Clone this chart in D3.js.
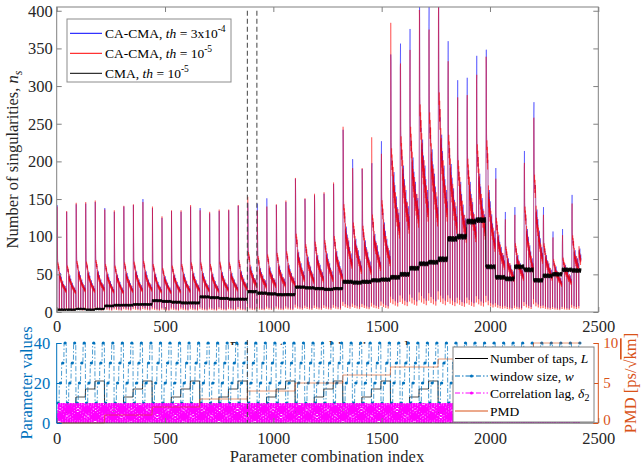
<!DOCTYPE html>
<html>
<head>
<meta charset="utf-8">
<script src="https://cdn.jsdelivr.net/npm/d3@7"></script>
<style>
body { margin: 0; background: #fff; }
svg { display: block; font-family: "Liberation Serif", "Times New Roman", serif; }
</style>
</head>
<body>
<svg width="641" height="471"></svg>
<script>
// parameter grid (nested loops: PMD > taps L > window w > lag delta2)
var pmdValues = [0, 1, 2, 3, 4, 5, 6, 7, 8, 9, 10];
var tapValues = [5, 9, 13, 17, 21];
var winValues = [10, 20, 30, 40];
var lagValues = [0, 1, 2, 3, 4, 5, 6, 7, 8, 9, 10];

// spike height of each L-block (55 blocks of 44 combinations)
var redPeak = [140, 134, 145, 146, 148, 136, 135, 141, 143, 146,
               140, 127, 135, 135, 142, 135, 133, 136, 136, 142,
               153, 135, 140, 143, 148, 178, 151, 157, 159, 172,
               246, 191, 191, 232, 176, 384, 324, 305, 401, 370,
               390, 299, 249, 262, 307, 339, 140, 112, 113, 192,
               257, 118, 87, 89, 124];
var bluePeak = [142, 133, 143, 144, 146, 138, 133, 140, 142, 150,
                138, 125, 134, 133, 140, 138, 131, 134, 135, 141,
                145, 144, 151, 142, 146, 177, 150, 155, 157, 170,
                242, 203, 190, 191, 201, 342, 330, 298, 284, 379,
                335, 284, 251, 264, 302, 283, 151, 116, 118, 180,
                263, 125, 92, 89, 133];
// level of each window-size sub-block inside an L-block
var caLevel = [
  [62, 48, 38, 32], [58, 45, 36, 30], [64, 50, 40, 33], [63, 49, 39, 32], [65, 50, 40, 34],
  [60, 47, 38, 31], [58, 46, 37, 30], [62, 48, 39, 32], [63, 50, 40, 33], [64, 50, 40, 34],
  [60, 47, 37, 31], [55, 44, 36, 30], [58, 46, 37, 31], [60, 47, 38, 32], [62, 48, 39, 33],
  [62, 48, 39, 33], [60, 47, 38, 32], [63, 49, 40, 34], [62, 48, 40, 34], [65, 50, 41, 35],
  [75, 56, 46, 40], [70, 54, 45, 39], [72, 55, 46, 40], [74, 57, 47, 41], [76, 58, 48, 42],
  [98, 74, 60, 50], [85, 68, 56, 47], [88, 70, 58, 49], [90, 72, 60, 50], [95, 75, 62, 52],
  [135, 105, 88, 72], [112, 90, 76, 63], [108, 88, 74, 62], [122, 96, 82, 68], [140, 110, 90, 76],
  [205, 172, 142, 122], [220, 180, 150, 130], [232, 190, 160, 140], [260, 212, 180, 150], [250, 200, 170, 142],
  [275, 218, 180, 150], [222, 182, 152, 130], [190, 160, 132, 115], [192, 160, 135, 116], [210, 170, 140, 120],
  [215, 150, 120, 100], [118, 95, 80, 70], [82, 66, 58, 50], [86, 70, 60, 52], [132, 102, 82, 66],
  [172, 126, 100, 80], [86, 70, 60, 52], [66, 56, 48, 42], [68, 58, 50, 45], [96, 76, 66, 78]
];
// shape over the correlation lag inside a sub-block
var redShape0 = [0.06, 1, 1.5, 1.15, 1.0, 1.06, 0.92, 1.02, 0.88, 0.98, 0.9];
var redShape = [0.06, 1.12, 0.93, 1.06, 0.88, 1.0, 0.84, 0.97, 0.8, 0.92, 0.86];
var blueShape0 = [0.1, 1, 1.62, 1.1, 1.04, 1.0, 0.95, 0.98, 0.92, 0.94, 0.88];
var blueShape = [0.1, 1.05, 0.98, 1.02, 0.92, 1.08, 0.9, 0.95, 0.86, 0.98, 0.88];

// CMA level per L-block and its ripple
var cmaLevel = [3, 3, 4, 3, 4, 8, 9, 9, 10, 10,
                15, 14, 13, 12, 12, 20, 19, 18, 17, 17,
                27, 25, 24, 23, 23, 33, 32, 31, 30, 31,
                40, 39, 40, 42, 43, 46, 50, 58, 64, 66,
                70, 97, 100, 120, 122, 60, 46, 44, 60, 56,
                42, 48, 50, 56, 55];
var cmaRipple = [0, 1.5, -1, 2, -1.5, 0.5, -2, 1.5, 0, 2, -1.5, 1, -1.5, 2, -0.5, 1.5, -2, 0, 1.5, -1, 2, -1.5,
                 -1, 1.5, -2, 1, 2, -1.5, 0, 1.5, -2, 1, -0.5, 1.5, -1.5, 0, 2, -1, 1.5, -2, 1, -1.5, 2, 0];
var cmaRippleAmp = [0.8, 0.9, 1, 1, 1.1, 1.1, 1.4, 1.6, 1.9, 1.6, 1.5];

var markIdx = [880, 924];
var xTicks = [0, 500, 1000, 1500, 2000, 2500];
var yTicksTop = [0, 50, 100, 150, 200, 250, 300, 350, 400];
var yTicksLeft = [0, 20, 40];
var yTicksRight = [0, 5, 10];

// build the combination table
var rows = [];
pmdValues.forEach(function(p) {
  tapValues.forEach(function(L) {
    winValues.forEach(function(w, s) {
      lagValues.forEach(function(d) {
        var i = rows.length, b = Math.floor(i / 44);
        var red = (s == 0 && d == 1) ? redPeak[b] : caLevel[b][s] * (s == 0 ? redShape0[d] : redShape[d]);
        var blue = (s == 0 && d == 1) ? bluePeak[b] : caLevel[b][s] * (s == 0 ? blueShape0[d] : blueShape[d]);
        var cma = cmaLevel[b] + cmaRipple[i % 44] * cmaRippleAmp[p];
        rows.push({idx: i + 1, pmd: p, L: L, w: w, d: d, red: red, blue: blue, cma: cma});
      });
    });
  });
});

var svg = d3.select("svg");
var serif = "'Liberation Serif', 'Times New Roman', serif";
var x = d3.scaleLinear().domain([0, 2500]).range([56.7, 598.3]);
var yTop = d3.scaleLinear().domain([0, 405]).range([312, 7]);
var yPar = d3.scaleLinear().domain([0, 40]).range([423, 343]);
var yPmd = d3.scaleLinear().domain([0, 10]).range([423, 343]);
var fmt = d3.format("d");

var axisGray = "#808080", textCol = "#262626";
var blueAx = "#0072BD", orange = "#D95319";

svg.append("defs").append("clipPath").attr("id", "clipTop")
  .append("rect").attr("x", 56.7).attr("y", 7).attr("width", 541.6).attr("height", 305);

// ---------- top panel ----------
var upper = svg.append("g").attr("clip-path", "url(#clipTop)");
function seriesLine(key) {
  return d3.line().x(function(r) { return x(r.idx); }).y(function(r) { return yTop(r[key]); });
}
upper.append("path").datum(rows).attr("d", seriesLine("blue"))
  .attr("fill", "none").attr("stroke", "#0000FF").attr("stroke-width", 0.55).attr("stroke-opacity", 0.75);
upper.append("path").datum(rows).attr("d", seriesLine("red"))
  .attr("fill", "none").attr("stroke", "#FF0000").attr("stroke-width", 0.55).attr("stroke-opacity", 0.75);
upper.append("path").datum(rows).attr("d", seriesLine("cma"))
  .attr("fill", "none").attr("stroke", "#000").attr("stroke-width", 0.7);
upper.selectAll(".mark").data(markIdx).enter().append("line")
  .attr("x1", function(d) { return x(d); }).attr("x2", function(d) { return x(d); })
  .attr("y1", yTop(400)).attr("y2", 312)
  .attr("stroke", "#404040").attr("stroke-width", 1).attr("stroke-dasharray", "5,3");

function styleAxis(g, col) {
  g.attr("font-family", serif).attr("font-size", 16.5);
  g.select(".domain").remove();
  g.selectAll(".tick line").attr("stroke", axisGray);
  g.selectAll(".tick text").attr("fill", col || textCol);
}
svg.append("g").attr("transform", "translate(0,312)")
  .call(d3.axisBottom(x).tickValues(xTicks).tickFormat(fmt).tickSize(-5).tickPadding(8.5))
  .call(styleAxis);
svg.append("g").attr("transform", "translate(0,7)")
  .call(d3.axisTop(x).tickValues(xTicks).tickSize(-5).tickFormat(""))
  .call(styleAxis);
svg.append("g").attr("transform", "translate(56.7,0)")
  .call(d3.axisLeft(yTop).tickValues(yTicksTop).tickFormat(fmt).tickSize(-5).tickPadding(4))
  .call(styleAxis);
svg.append("g").attr("transform", "translate(598.3,0)")
  .call(d3.axisRight(yTop).tickValues(yTicksTop).tickSize(-5).tickFormat(""))
  .call(styleAxis);
svg.append("rect").attr("x", 56.7).attr("y", 7).attr("width", 541.6).attr("height", 305)
  .attr("fill", "none").attr("stroke", axisGray).attr("stroke-width", 1);

var yl = svg.append("text").attr("transform", "translate(18,159.5) rotate(-90)")
  .attr("text-anchor", "middle").attr("font-size", 16.5).attr("fill", textCol);
yl.append("tspan").text("Number of singularities, ");
yl.append("tspan").attr("font-style", "italic").text("n");
yl.append("tspan").attr("font-size", 12).attr("font-style", "italic").attr("dy", 4).text("s");

// top legend
var leg = svg.append("g");
leg.append("rect").attr("x", 67).attr("y", 19).attr("width", 164).attr("height", 63)
  .attr("fill", "#fff").attr("stroke", "#8c8c8c").attr("stroke-width", 1);
var legItems = [
  {col: "#0000FF", th: "3x10", sup: "-4"},
  {col: "#FF0000", th: "10", sup: "-5"},
  {col: "#000000", th: "10", sup: "-5", name: "CMA"}
];
legItems.forEach(function(it, k) {
  var yy = 33.3 + k * 20;
  leg.append("line").attr("x1", 70).attr("x2", 102).attr("y1", yy).attr("y2", yy)
    .attr("stroke", it.col).attr("stroke-width", 1);
  var t = leg.append("text").attr("x", 105).attr("y", yy + 4.5).attr("font-size", 13.5).attr("fill", "#000");
  t.append("tspan").text((it.name || "CA-CMA") + ", ");
  t.append("tspan").attr("font-style", "italic").text("th");
  t.append("tspan").text(" = " + it.th);
  t.append("tspan").attr("font-size", 9.5).attr("dy", -6).text(it.sup);
});

// x label of the upper axes, mostly covered by the lower axes
svg.append("text").attr("x", 327).attr("y", 353).attr("text-anchor", "middle")
  .attr("font-size", 16.5).attr("fill", textCol).text("Parameter combination index");
svg.append("rect").attr("x", 0).attr("y", 345).attr("width", 641).attr("height", 90).attr("fill", "#fff");

// ---------- bottom panel ----------
var lower = svg.append("g");
function parLine(key) {
  return d3.line().x(function(r) { return x(r.idx); }).y(function(r) { return yPar(r[key]); });
}
lower.append("path").datum(rows).attr("d", parLine("L"))
  .attr("fill", "none").attr("stroke", "#000").attr("stroke-width", 0.8);
lower.append("path").datum(rows).attr("d", parLine("w"))
  .attr("fill", "none").attr("stroke", blueAx).attr("stroke-width", 0.7)
  .attr("stroke-dasharray", "5,2,1.5,2");
lower.selectAll(".wm").data(rows.filter(function(r) { return r.d == 5; })).enter().append("circle")
  .attr("cx", function(r) { return x(r.idx); }).attr("cy", function(r) { return yPar(r.w); })
  .attr("r", 1.6).attr("fill", blueAx);
lower.append("path").datum(rows).attr("d", parLine("d"))
  .attr("fill", "none").attr("stroke", "#FF00FF").attr("stroke-width", 2)
  .attr("stroke-dasharray", "10,1,2,1");
lower.append("path").datum(rows)
  .attr("d", d3.line().x(function(r) { return x(r.idx); }).y(function(r) { return yPmd(r.pmd); }))
  .attr("fill", "none").attr("stroke", orange).attr("stroke-width", 0.8).attr("stroke-opacity", 0.8);
lower.append("line").attr("x1", x(markIdx[0])).attr("x2", x(markIdx[0])).attr("y1", 340).attr("y2", 423)
  .attr("stroke", "#404040").attr("stroke-width", 1).attr("stroke-dasharray", "5,3");

svg.append("g").attr("transform", "translate(0,423)")
  .call(d3.axisBottom(x).tickValues(xTicks).tickFormat(fmt).tickSize(-5).tickPadding(9))
  .call(styleAxis);
svg.append("line").attr("x1", 56.7).attr("x2", 598.3).attr("y1", 423).attr("y2", 423)
  .attr("stroke", "#404040").attr("stroke-width", 1);
var la = svg.append("g").attr("transform", "translate(56.7,0)")
  .call(d3.axisLeft(yPar).tickValues(yTicksLeft).tickFormat(fmt).tickSize(-5).tickPadding(6.5))
  .call(styleAxis, blueAx);
la.selectAll(".tick line").attr("stroke", blueAx);
svg.append("line").attr("x1", 56.7).attr("x2", 56.7).attr("y1", 343).attr("y2", 423)
  .attr("stroke", blueAx).attr("stroke-width", 1);
var ra = svg.append("g").attr("transform", "translate(598.3,0)")
  .call(d3.axisRight(yPmd).tickValues(yTicksRight).tickFormat(fmt).tickSize(-5).tickPadding(5))
  .call(styleAxis, orange);
ra.attr("font-size", 15);
ra.selectAll(".tick line").attr("stroke", orange);
// lift the "0" a little so it clears the 2500 label below it
ra.selectAll(".tick text").filter(function(d) { return d == 0; }).attr("dy", "0.1em");
svg.append("line").attr("x1", 598.3).attr("x2", 598.3).attr("y1", 343).attr("y2", 423)
  .attr("stroke", orange).attr("stroke-width", 1);

svg.append("text").attr("transform", "translate(32,383) rotate(-90)").attr("text-anchor", "middle")
  .attr("font-size", 16.5).attr("fill", blueAx).text("Parameter values");
var rl = svg.append("text").attr("transform", "translate(636,383) rotate(-90)").attr("text-anchor", "middle")
  .attr("font-size", 16.5).attr("fill", orange);
rl.append("tspan").text("PMD [ps/√");
rl.append("tspan").attr("text-decoration", "overline").text("km");
rl.append("tspan").text("]");
svg.append("text").attr("x", 327).attr("y", 462).attr("text-anchor", "middle")
  .attr("font-size", 16.5).attr("fill", textCol).text("Parameter combination index");

// bottom legend
var leg2 = svg.append("g");
leg2.append("rect").attr("x", 453).attr("y", 347).attr("width", 141).attr("height", 75)
  .attr("fill", "#fff").attr("stroke", "#808080").attr("stroke-width", 1);
var leg2Items = [
  {col: "#000", dash: null, dot: false, y: 358.5},
  {col: blueAx, dash: "5,2,1.5,2", dot: true, y: 376},
  {col: "#FF00FF", dash: "5,2,1.5,2", dot: true, y: 393},
  {col: orange, dash: null, dot: false, y: 411}
];
leg2Items.forEach(function(it) {
  leg2.append("line").attr("x1", 455).attr("x2", 488).attr("y1", it.y).attr("y2", it.y)
    .attr("stroke", it.col).attr("stroke-width", 1).attr("stroke-dasharray", it.dash);
  if (it.dot) leg2.append("circle").attr("cx", 471.5).attr("cy", it.y).attr("r", 1.6).attr("fill", it.col);
});
function legText(yy) {
  return leg2.append("text").attr("x", 490).attr("y", yy + 4.5).attr("font-size", 13.5).attr("fill", "#000");
}
var t1 = legText(358.5);
t1.append("tspan").text("Number of taps, ");
t1.append("tspan").attr("font-style", "italic").text("L");
var t2 = legText(376);
t2.append("tspan").text("window size, ");
t2.append("tspan").attr("font-style", "italic").text("w");
var t3 = legText(393);
t3.append("tspan").text("Correlation lag, ");
t3.append("tspan").attr("font-style", "italic").text("δ");
t3.append("tspan").attr("font-size", 10).attr("dy", 3).text("2");
legText(411).text("PMD");
</script>
</body>
</html>
